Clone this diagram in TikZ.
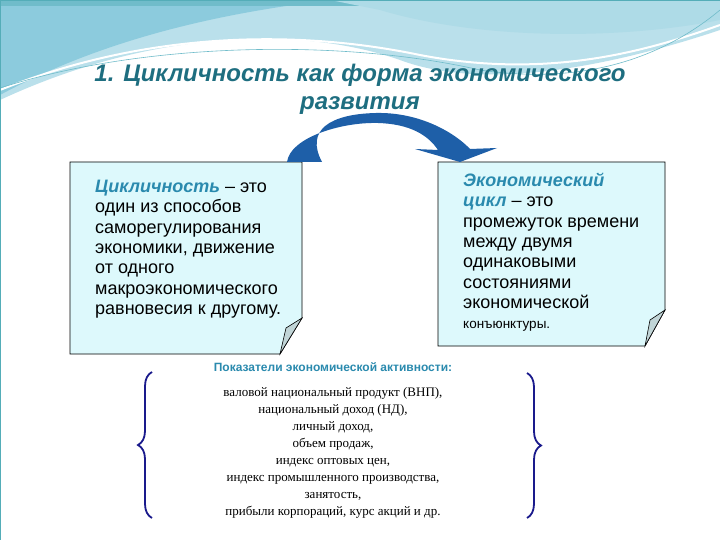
\documentclass[tikz,border=0pt]{standalone}
\usepackage{fontspec}
\setmainfont{Liberation Sans}
\newfontfamily\serifrm{Liberation Serif}
\usetikzlibrary{decorations.pathreplacing}
\definecolor{boxfill}{HTML}{DDF9FC}
\definecolor{teal1}{HTML}{1E6E80}
\definecolor{kw}{HTML}{2A8AAE}
\definecolor{arrowblue}{HTML}{1E5FA8}
\definecolor{band}{HTML}{8CCBDD}
\definecolor{bracecol}{HTML}{1A1A8C}
\tikzset{
  notebox/.style={draw=black, fill=boxfill, line width=0.8pt},
  deftext/.style={anchor=north west, align=left, font=\fontsize{18}{20.3}\selectfont, inner sep=0pt},
  curl/.style={draw=black, fill=boxfill!70!gray, line width=0.6pt},
}
\begin{document}
\begin{tikzpicture}[x=1pt,y=-1pt]
\useasboundingbox (0,0) rectangle (720,540);
\fill[white] (0,0) rectangle (720,540);
% header band
\fill[band!60!white] (0,0) -- (720,0) -- (720,30) .. controls (600,70) and (480,90) .. (400,60) .. controls (300,25) and (150,30) .. (0,100) -- cycle;
\fill[band] (0,0) -- (330,0) .. controls (250,10) and (120,30) .. (0,95) -- cycle;
\fill[band!80!teal] (0,0) -- (720,0) -- (720,6) -- (0,6) -- cycle;
\fill[band!70!white] (330,0) -- (720,0) -- (720,20) .. controls (620,40) and (480,40) .. (380,10) -- cycle;
\draw[white, line width=2pt] (0,90) .. controls (150,30) and (300,30) .. (420,55) .. controls (550,80) and (650,50) .. (720,25);
\draw[band!80!teal, line width=0.6pt] (0,88) .. controls (150,40) and (350,40) .. (480,70) .. controls (580,85) and (660,60) .. (720,10);
\draw[band!60!teal, line width=0.5pt] (0,0) rectangle (720,540);
% title
\node[font=\bfseries\itshape\fontsize{24}{28}\selectfont, text=teal1, align=center] (title) at (360,89) {1. Цикличность как форма экономического\\развития};
% left box
\path[notebox] (70,162) -- (302,162) -- (302,318) -- (280,354) -- (70,354) -- cycle;
\path[curl] (302,318) -- (280,354) -- (286,328) -- cycle;
\node[deftext] (lt) at (95,180) {\textcolor{kw}{\bfseries\itshape Цикличность} – это\\один из способов\\саморегулирования\\экономики, движение\\от одного\\макроэкономического\\равновесия к другому.};
% right box
\path[notebox] (438,162) -- (665,162) -- (665,310) -- (645,346) -- (438,346) -- cycle;
\path[curl] (665,310) -- (645,346) -- (650,320) -- cycle;
\node[deftext] (rt) at (463,173) {\textcolor{kw}{\bfseries\itshape Экономический}\\\textcolor{kw}{\bfseries\itshape цикл} – это\\промежуток времени\\между двумя\\одинаковыми\\состояниями\\экономической\\{\fontsize{13.5}{20.3}\selectfont конъюнктуры.}};
% curved arrow
\fill[arrowblue] (287,162) .. controls (290,138) and (340,122) .. (378,123) .. controls (410,124) and (428,135) .. (438,150)
  -- (415,149) -- (460,162) -- (497,148) -- (470,149) .. controls (455,133) and (420,112) .. (376,113) .. controls (330,114) and (305,130) .. (322,162) -- cycle;
% indicators
\node[font=\bfseries\fontsize{12}{12}\selectfont, text=kw] (ph) at (333,367) {Показатели экономической активности:};
\node[font=\serifrm\fontsize{13}{17}\selectfont, align=center, anchor=north] (list) at (333,384) {валовой национальный продукт (ВНП),\\национальный доход (НД),\\личный доход,\\объем продаж,\\индекс оптовых цен,\\индекс промышленного производства,\\занятость,\\прибыли корпораций, курс акций и др.};
\coordinate (lb1) at (152,518); \coordinate (lb2) at (152,372);
\coordinate (rb1) at (527,373); \coordinate (rb2) at (527,518);
\draw[bracecol, line width=1.8pt, decorate, decoration={brace, amplitude=14pt}] (lb1) -- (lb2);
\draw[bracecol, line width=1.8pt, decorate, decoration={brace, amplitude=14pt}] (rb1) -- (rb2);
\end{tikzpicture}
\end{document}
